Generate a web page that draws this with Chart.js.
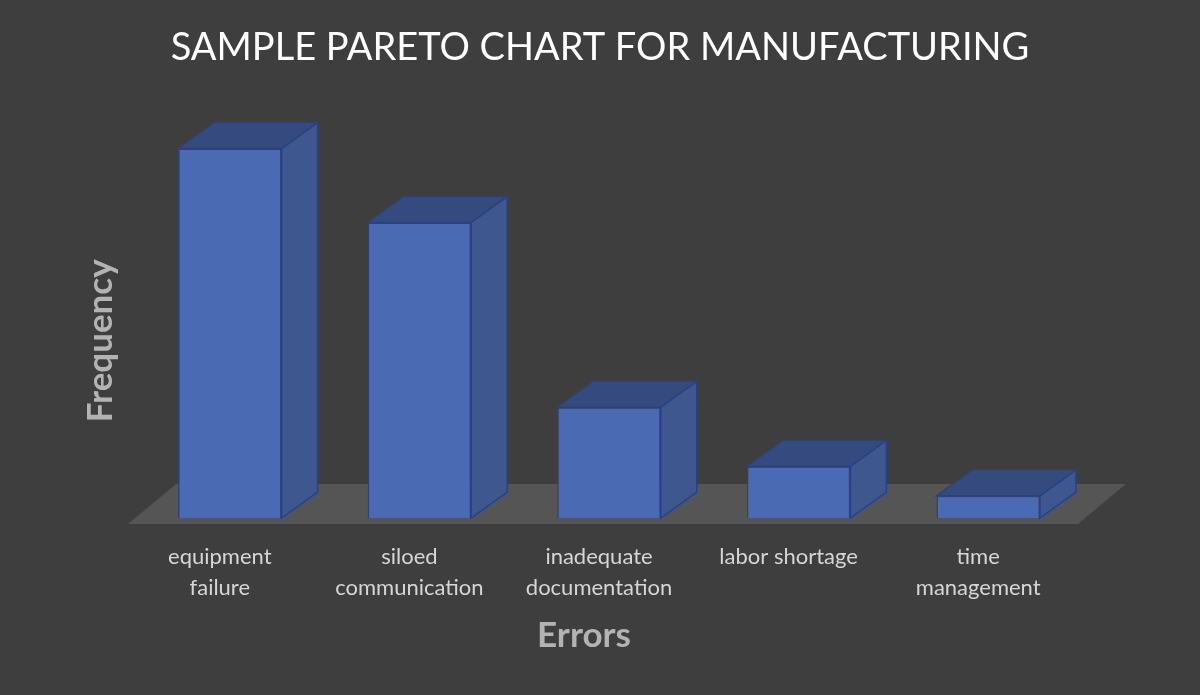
<!DOCTYPE html>
<html>
<head>
<meta charset="utf-8">
<script src="https://cdn.jsdelivr.net/npm/chart.js@4"></script>
<style>
  body { margin: 0; background: #3e3e3e; }
  #chart { display: block; }
</style>
</head>
<body>
<canvas id="chart" width="1200" height="695"></canvas>
<script>
// Pareto chart data
const categories = [
  ['equipment', 'failure'],
  ['siloed', 'communication'],
  ['inadequate', 'documentation'],
  'labor shortage',
  ['time', 'management']
];
const frequency = [50, 40, 15, 7, 3];
const yMax = 55;

// 3D look for the bars: floor plane, top and side faces
const DX = 36, DY = -26;
const bar3d = {
  id: 'bar3d',
  beforeDatasetsDraw(chart) {
    const { ctx, chartArea: a, scales: { y } } = chart;
    const base = y.getPixelForValue(0);
    ctx.save();
    ctx.fillStyle = '#555555';
    ctx.beginPath();
    ctx.moveTo(a.left - 7, base + 6);
    ctx.lineTo(a.right - 5, base + 6);
    ctx.lineTo(a.right + 43, base - 34);
    ctx.lineTo(a.left + 41, base - 34);
    ctx.closePath();
    ctx.fill();

    ctx.lineWidth = 1.5;
    ctx.strokeStyle = '#2a4282';
    chart.getDatasetMeta(0).data.forEach(bar => {
      const { x, y: top, base: b, width } = bar.getProps(['x', 'y', 'base', 'width'], true);
      const l = x - width / 2, r = x + width / 2;
      // side
      ctx.fillStyle = '#3e578f';
      ctx.beginPath();
      ctx.moveTo(r, top);
      ctx.lineTo(r + DX, top + DY);
      ctx.lineTo(r + DX, b + DY);
      ctx.lineTo(r, b);
      ctx.closePath();
      ctx.fill();
      ctx.stroke();
      // top
      ctx.fillStyle = '#354b80';
      ctx.beginPath();
      ctx.moveTo(l, top);
      ctx.lineTo(l + DX, top + DY);
      ctx.lineTo(r + DX, top + DY);
      ctx.lineTo(r, top);
      ctx.closePath();
      ctx.fill();
      ctx.stroke();
    });
    ctx.restore();
  },
  afterDraw(chart) {
    const { ctx, chartArea: a } = chart;
    ctx.save();
    ctx.fillStyle = '#b3b3b3';
    ctx.textAlign = 'center';
    ctx.textBaseline = 'middle';
    ctx.font = 'bold 35px Lato';
    ctx.fillText('Errors', (a.left + a.right) / 2 - 25, a.bottom + 118);
    ctx.translate(a.left - 34, (a.top + a.bottom) / 2 + 26);
    ctx.rotate(-Math.PI / 2);
    ctx.fillText('Frequency', 0, 0);
    ctx.restore();
  }
};

new Chart(document.getElementById('chart'), {
  type: 'bar',
  data: {
    labels: categories,
    datasets: [{
      label: 'Frequency',
      data: frequency,
      backgroundColor: '#4a6bb4',
      borderColor: '#2a4282',
      borderWidth: 1.5,
      barPercentage: 0.546,
      categoryPercentage: 1
    }]
  },
  options: {
    responsive: false,
    animation: false,
    layout: { padding: 0 },
    scales: {
      x: {
        grid: { display: false, drawTicks: false },
        border: { display: false },
        ticks: {
          color: '#d6d6d6',
          font: { family: 'Lato', size: 22, lineHeight: 1.4 },
          padding: 24,
          labelOffset: -10,
          maxRotation: 0,
          autoSkip: false
        },
        afterFit(scale) { scale.height = 177; }
      },
      y: {
        min: 0,
        max: yMax,
        grid: { display: false, drawTicks: false },
        border: { display: false },
        ticks: { display: false },
        afterFit(scale) { scale.width = 135; }
      },
      yRight: {
        position: 'right',
        grid: { display: false, drawTicks: false },
        border: { display: false },
        ticks: { display: false },
        afterFit(scale) { scale.width = 117; }
      }
    },
    plugins: {
      legend: { display: false },
      tooltip: { enabled: false },
      title: {
        display: true,
        text: 'SAMPLE PARETO CHART FOR MANUFACTURING',
        color: '#ffffff',
        font: { family: 'Lato', size: 38, weight: 'normal', lineHeight: 1.2 },
        padding: { top: 25, bottom: 41 }
      }
    }
  },
  plugins: [bar3d]
});
</script>
</body>
</html>
